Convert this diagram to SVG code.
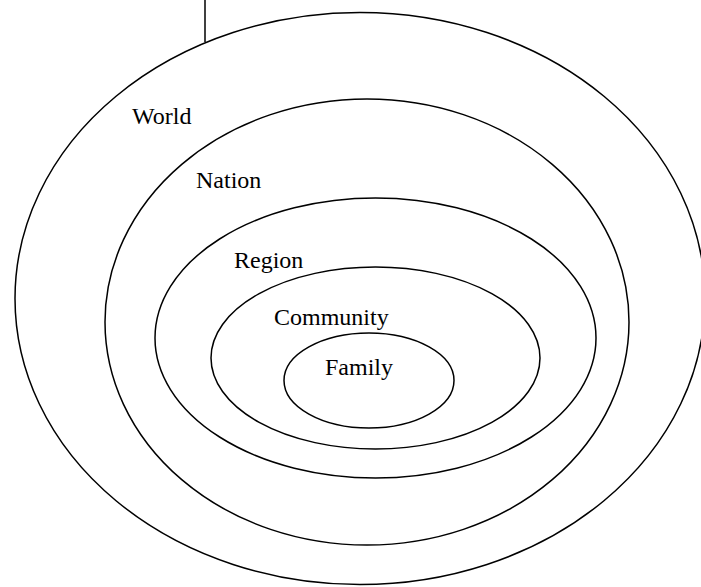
<svg xmlns="http://www.w3.org/2000/svg" width="701" height="587" viewBox="0 0 701 587">
<style>
.ring{fill:none;stroke:#000;stroke-width:1.5}
.lbl{font-family:"Liberation Serif","Times New Roman",serif;font-size:24px;fill:#000}
</style>
<rect width="701" height="587" fill="#fff"/>
<g id="connectors">
<line x1="205" y1="0" x2="205" y2="42" stroke="#000" stroke-width="1.5"/>
</g>
<g id="world">
<ellipse class="ring" cx="360" cy="298.5" rx="345" ry="286"/>
<text class="lbl" x="132" y="124">World</text>
</g>
<g id="nation">
<ellipse class="ring" cx="367" cy="322" rx="262" ry="223"/>
<text class="lbl" x="196" y="188">Nation</text>
</g>
<g id="region">
<ellipse class="ring" cx="375.5" cy="338" rx="220.5" ry="140"/>
<text class="lbl" x="234" y="268">Region</text>
</g>
<g id="community">
<ellipse class="ring" cx="375.5" cy="358" rx="164.5" ry="91"/>
<text class="lbl" x="274" y="325">Community</text>
</g>
<g id="family">
<ellipse class="ring" cx="369" cy="380.5" rx="85" ry="47.5"/>
<text class="lbl" x="325" y="375">Family</text>
</g>
</svg>
